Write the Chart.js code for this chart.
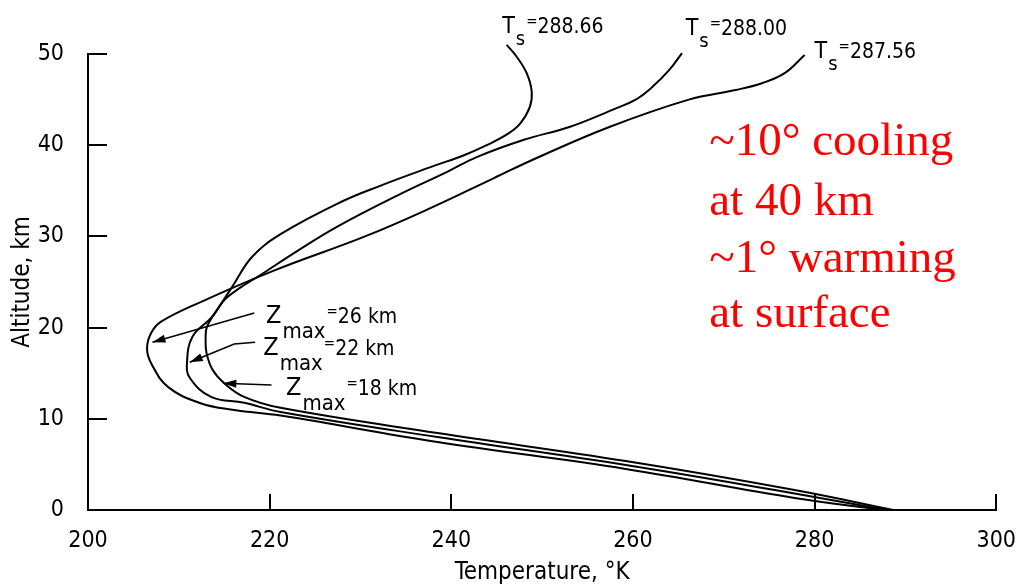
<!DOCTYPE html>
<html>
<head>
<meta charset="utf-8">
<script src="https://cdn.jsdelivr.net/npm/chart.js@4.4.1/dist/chart.umd.min.js"></script>
<style>
  html, body { margin: 0; padding: 0; background: #fff; }
  #wrap { width: 1025px; height: 587px; }
</style>
</head>
<body>
<div id="wrap"><canvas id="profile" width="1025" height="587"></canvas></div>
<script>
// temperature profiles (K) against altitude (km), listed from the top down
const tempsA = [246.1, 247.2, 248.3, 248.85, 248.65, 247.6, 246.3, 243.9, 241.4, 238.0, 232.3, 227.9, 221.3, 218.1, 215.9, 214.4, 213.1, 212.95, 213.05, 213.7, 215.0, 217.2, 221.2, 238.47, 259.2, 277.8, 288.66];
const altsA  = [51.0, 49.7, 47.9, 45.9, 44.2, 42.4, 41.3, 40.0, 38.9, 37.7, 35.6, 33.8, 30.3, 27.8, 24.5, 22.2, 20.1, 18.6, 17.2, 15.4, 13.9, 12.4, 11.2, 8.44, 5.37, 2.19, 0];

const tempsB = [265.4, 264.0, 262.15, 260.3, 257.8, 253.0, 248.0, 242.8, 239.6, 234.1, 227.5, 223.2, 219.5, 215.3, 213.55, 211.5, 210.9, 211.2, 213.55, 217.2, 221.2, 238.47, 259.2, 277.8, 288.00];
const altsB  = [50.1, 48.25, 46.4, 45.0, 43.9, 42.0, 40.6, 38.7, 37.1, 34.5, 31.1, 28.5, 26.1, 23.3, 21.05, 19.0, 16.2, 14.5, 12.4, 11.75, 10.75, 8.0, 4.93, 1.81, 0];

const tempsC = [278.9, 276.7, 274.2, 271.3, 266.15, 257.4, 249.4, 244.7, 237.7, 230.5, 220.6, 212.4, 208.05, 206.95, 206.5, 206.95, 208.8, 212.4, 216.1, 221.2, 238.47, 259.2, 277.8, 287.56];
const altsC  = [49.9, 47.9, 46.8, 46.05, 45.0, 42.0, 38.6, 36.4, 33.1, 30.0, 26.3, 22.8, 20.65, 19.4, 17.7, 16.1, 13.5, 11.7, 10.96, 10.35, 7.46, 4.5, 1.32, 0];

const surfaceTemps = [288.66, 288.00, 287.56];
const ozoneMaxKm = [18, 22, 26];

const xTicks = [200, 220, 240, 260, 280, 300];
const yTicks = [0, 10, 20, 30, 40, 50];

// where the curve labels and arrows sit, in data units
const tsLabelT = [245.6, 265.8, 280.0];
const tsLabelZ = [52.3, 52.1, 49.6];
const zLabelT = [221.8, 219.3, 219.6];
const zLabelZ = [12.6, 17.0, 20.5];
const arrowT = [[220.2, 214.9], [218.4, 216.1, 211.2], [218.3, 207.1]];
const arrowZ = [[13.7, 13.9], [18.4, 18.2, 16.2], [21.6, 18.4]];

const noteLines = ['~10\u00b0 cooling', 'at 40 km', '~1\u00b0 warming', 'at surface'];
const noteT = 268.4;
const noteZ = [38.9, 32.3, 26.1, 20.1];

const AXIS_FONT = '"Liberation Sans Narrow", "DejaVu Sans Condensed", "Liberation Sans", sans-serif';

const toPoints = (ts, zs) => ts.map((t, i) => ({ x: t, y: zs[i] }));

const profile = (ts, zs) => ({
  data: toPoints(ts, zs),
  borderColor: '#000',
  borderWidth: 2,
  pointRadius: 0,
  tension: 0.4,
  fill: false,
  clip: false,
});

// inward tick marks along both axes
const inwardTicks = {
  id: 'inwardTicks',
  afterDraw(chart) {
    const { ctx, chartArea: area, scales: { x, y } } = chart;
    ctx.save();
    ctx.strokeStyle = '#000';
    ctx.lineWidth = 2;
    ctx.beginPath();
    x.ticks.forEach(t => {
      if (t.value === x.min) return;
      const px = Math.round(x.getPixelForValue(t.value));
      ctx.moveTo(px, area.bottom);
      ctx.lineTo(px, area.bottom - 16);
    });
    y.ticks.forEach(t => {
      if (t.value === y.min) return;
      const py = Math.round(y.getPixelForValue(t.value));
      ctx.moveTo(area.left, py);
      ctx.lineTo(area.left + 19, py);
    });
    ctx.stroke();
    ctx.restore();
  }
};

function drawArrow(ctx, pts) {
  ctx.beginPath();
  pts.forEach((p, i) => (i ? ctx.lineTo(p[0], p[1]) : ctx.moveTo(p[0], p[1])));
  ctx.stroke();
  const [tx, ty] = pts[pts.length - 1];
  const [fx, fy] = pts[pts.length - 2];
  const a = Math.atan2(ty - fy, tx - fx);
  ctx.beginPath();
  ctx.moveTo(tx, ty);
  ctx.lineTo(tx - 13 * Math.cos(a) + 4 * Math.sin(a), ty - 13 * Math.sin(a) - 4 * Math.cos(a));
  ctx.lineTo(tx - 13 * Math.cos(a) - 4 * Math.sin(a), ty - 13 * Math.sin(a) + 4 * Math.cos(a));
  ctx.closePath();
  ctx.fill();
}

// letter, subscript, small raised "=", then the value
function drawSubLabel(ctx, px, py, main, sub, rest, s) {
  let cx = px;
  ctx.font = `${s.main}px ${AXIS_FONT}`;
  ctx.fillText(main, cx, py);
  cx += ctx.measureText(main).width + 1;
  ctx.font = `${s.sub}px ${AXIS_FONT}`;
  ctx.fillText(sub, cx, py + s.drop);
  cx += ctx.measureText(sub).width + 1;
  ctx.font = `${s.eq}px ${AXIS_FONT}`;
  ctx.fillText('=', cx, py - s.raise);
  cx += ctx.measureText('=').width;
  ctx.font = `${s.rest}px ${AXIS_FONT}`;
  ctx.fillText(rest, cx, py);
}

const annotate = {
  id: 'annotate',
  afterDraw(chart) {
    const { ctx, scales: { x, y } } = chart;
    ctx.save();
    ctx.fillStyle = '#000';
    ctx.strokeStyle = '#000';
    ctx.lineWidth = 1.6;
    ctx.textBaseline = 'alphabetic';
    ctx.textAlign = 'left';

    surfaceTemps.forEach((ts, i) => {
      drawSubLabel(ctx, x.getPixelForValue(tsLabelT[i]), y.getPixelForValue(tsLabelZ[i]),
        'T', 's', ts.toFixed(2), { main: 23, sub: 20, drop: 12, eq: 15, raise: 7, rest: 21 });
    });

    ozoneMaxKm.forEach((zm, i) => {
      drawSubLabel(ctx, x.getPixelForValue(zLabelT[i]), y.getPixelForValue(zLabelZ[i]),
        'Z', 'max', zm + ' km', { main: 25, sub: 22, drop: 15, eq: 15, raise: 7, rest: 21 });
      const pts = arrowT[i].map((t, k) => [x.getPixelForValue(t), y.getPixelForValue(arrowZ[i][k])]);
      drawArrow(ctx, pts);
    });

    ctx.fillStyle = '#ff0000';
    ctx.font = '47px "Liberation Serif", "DejaVu Serif", serif';
    noteLines.forEach((line, i) => {
      ctx.fillText(line, x.getPixelForValue(noteT), y.getPixelForValue(noteZ[i]));
    });
    ctx.restore();
  }
};

const tickFont = { family: AXIS_FONT, size: 23 };
const titleFont = { family: AXIS_FONT, size: 24 };

new Chart(document.getElementById('profile'), {
  type: 'line',
  data: {
    datasets: [profile(tempsA, altsA), profile(tempsB, altsB), profile(tempsC, altsC)],
  },
  options: {
    responsive: false,
    animation: false,
    layout: { padding: { top: 54, right: 22, left: 0, bottom: 0 } },
    plugins: {
      legend: { display: false },
      tooltip: { enabled: false },
    },
    scales: {
      x: {
        type: 'linear',
        min: xTicks[0],
        max: xTicks[xTicks.length - 1],
        afterBuildTicks: s => { s.ticks = xTicks.map(v => ({ value: v })); },
        afterFit: s => { s.height = 77; },
        grid: { display: false },
        border: { display: true, color: '#000', width: 2 },
        ticks: { color: '#000', font: tickFont, padding: 9 },
        title: {
          display: true,
          text: 'Temperature, \u00b0K',
          color: '#000',
          font: titleFont,
          padding: { top: 0, bottom: 0 },
        },
      },
      y: {
        type: 'linear',
        min: yTicks[0],
        max: yTicks[yTicks.length - 1],
        afterBuildTicks: s => { s.ticks = yTicks.map(v => ({ value: v })); },
        afterFit: s => { s.width = 88; },
        grid: { display: false },
        border: { display: true, color: '#000', width: 2 },
        ticks: { color: '#000', font: tickFont, padding: 16 },
        title: {
          display: true,
          text: 'Altitude, km',
          color: '#000',
          font: titleFont,
          padding: { top: 8, bottom: 0 },
        },
      },
    },
  },
  plugins: [inwardTicks, annotate],
});
</script>
</body>
</html>
